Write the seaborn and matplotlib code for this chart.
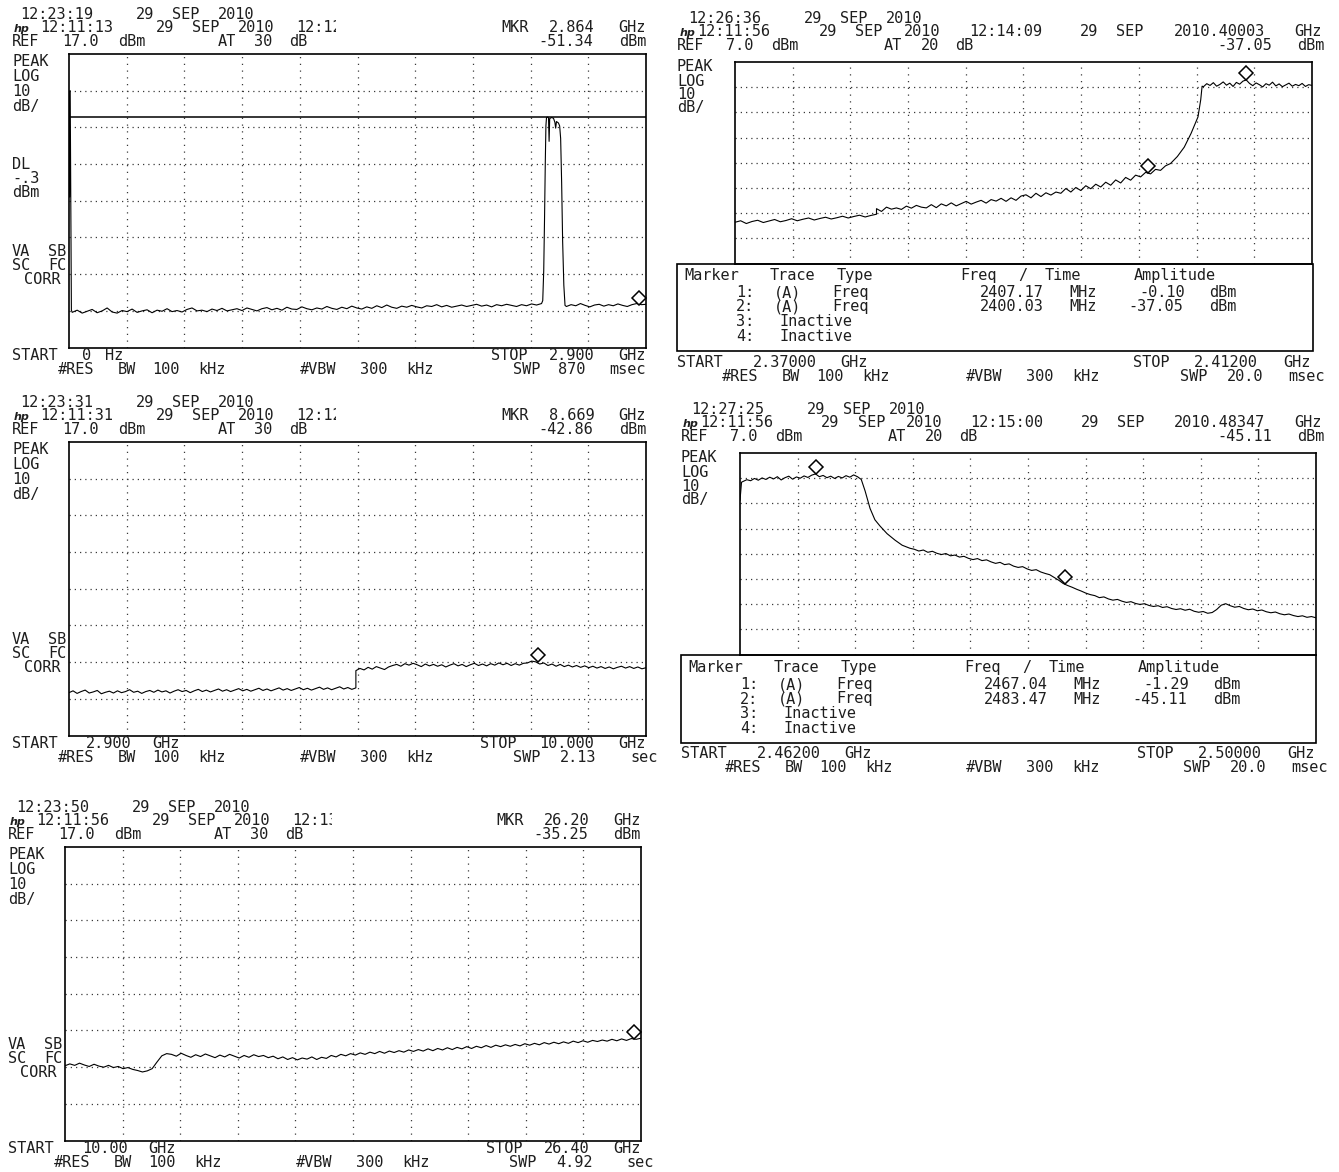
import re
import numpy as np
import matplotlib
matplotlib.use("Agg")
import matplotlib.pyplot as plt
from matplotlib.patches import Rectangle
from matplotlib.transforms import Bbox, TransformedBbox, offset_copy
import seaborn as sns

# ---------------------------------------------------------------- data
# Sweep 1: 0 Hz .. 2.9 GHz, REF 17 dBm
s1_lo_f = [0.0, 0.003, 0.006, 0.009, 0.012]
s1_lo_a = [7.0, -22.0, 7.0, -22.0, -52.8]
s1_noise_a = [
    -53.4, -52.8, -53.6, -53.1, -52.6, -53.5, -53.0, -52.2, -53.3, -53.6,
    -52.9, -53.2, -52.5, -53.4, -53.0, -52.7, -53.5, -52.8, -53.1, -52.4,
    -53.2, -52.9, -53.3, -52.6, -52.2, -53.0, -52.8, -53.2, -52.5, -52.9,
    -52.3, -53.0, -52.7, -52.4, -52.9, -52.2, -52.6, -53.0, -52.4, -52.1,
    -52.7, -52.3, -52.8, -52.0, -52.5, -52.6, -51.9, -52.4, -52.7, -52.2,
    -52.5, -51.8, -52.3, -52.6, -52.0, -52.4, -51.7, -52.2, -52.5, -51.9,
    -52.3, -51.6, -52.1, -51.4, -52.0, -52.3, -51.7, -52.0, -51.5, -51.9,
    -52.2, -51.6, -51.8, -51.3, -51.9, -51.5, -52.0, -51.7, -51.4, -51.8,
    -51.5, -51.2, -51.7, -51.4, -51.9, -51.3, -51.6, -51.2, -51.5, -51.8,
    -51.3, -51.6, -51.1, -51.4, -51.0]
s1_band_f = [2.381, 2.386, 2.390, 2.394, 2.397, 2.400, 2.406, 2.410, 2.413,
             2.416, 2.425, 2.435, 2.442, 2.446, 2.450, 2.460, 2.466, 2.471,
             2.476, 2.481, 2.487, 2.493]
s1_band_a = [-50.2, -42.0, -28.0, -12.0, -2.5, -0.3, -0.2, -0.4, -6.8,
             -0.6, -0.3, -0.5, -1.6, -3.2, -1.4, -1.8, -2.6, -6.0,
             -18.0, -34.0, -46.0, -51.5]
s1_tail_a = [-51.8, -51.3, -51.6, -51.0, -51.5, -51.9, -51.4, -51.2, -51.7,
             -51.3, -51.6, -51.1, -51.5, -51.8, -51.3, -51.0, -51.3, -51.2]
s1_mkr = (2.864, -51.34)
s1_dl = -0.3

# Sweep 3: 2.9 .. 10 GHz, REF 17 dBm
s3_step = 6.43
s3_low_a = [
    -51.3, -50.8, -51.5, -51.0, -50.6, -51.4, -51.1, -50.7, -51.6, -51.2,
    -50.9, -51.4, -50.8, -51.3, -51.0, -50.5, -51.2, -50.9, -51.5, -51.0,
    -50.7, -51.2, -50.6, -51.1, -50.8, -51.4, -50.9, -50.5, -51.0, -50.7,
    -51.3, -50.8, -50.4, -51.0, -50.6, -51.1, -50.7, -50.3, -50.9, -50.5,
    -51.0, -50.6, -50.2, -50.8, -50.4, -50.9, -50.5, -50.1, -50.7, -50.3,
    -50.8, -50.4, -50.0, -50.6, -50.2, -50.7, -50.3, -49.9, -50.5, -50.1,
    -50.6, -50.2, -49.8, -50.4, -50.0, -50.5, -50.1, -49.7, -50.3, -49.9,
    -50.4, -50.0]
s3_high_a = [
    -45.3, -44.7, -45.1, -44.4, -44.9, -44.2, -44.6, -45.0, -44.3, -43.9,
    -43.6, -44.1, -43.4, -43.8, -43.3, -43.7, -44.2, -43.5, -44.0, -43.6,
    -44.1, -43.7, -44.3, -43.8, -43.4, -44.0, -43.6, -44.2, -43.7, -43.3,
    -43.9, -43.5, -44.0, -43.4, -43.8, -43.2, -43.7, -43.3, -43.9, -43.4,
    -43.8, -43.3, -43.2, -42.7, -42.9, -43.5, -43.2, -43.9, -43.5, -44.1,
    -43.6, -44.2, -43.8, -44.3, -43.9, -44.4, -44.0, -44.5, -44.1, -44.6,
    -44.2, -44.7, -44.3, -44.8, -44.4, -44.1, -44.6, -44.2, -44.7, -44.3,
    -44.8, -44.5]
s3_mkr = (8.669, -42.86)

# Sweep 5: 10 .. 26.4 GHz, REF 17 dBm
s5_a = [
    -42.6, -42.1, -42.5, -41.9, -42.4, -42.8, -42.2, -42.7, -43.0, -42.5,
    -43.1, -42.8, -43.4, -43.1, -43.6, -43.9, -44.3, -44.0, -43.4, -41.6,
    -39.9, -39.3, -39.5, -40.0, -39.2, -39.8, -40.3, -39.6, -40.1, -39.4,
    -39.9, -40.4, -39.7, -40.2, -39.5, -40.0, -40.5, -39.8, -40.3, -39.6,
    -40.1, -39.8, -40.4, -40.0, -40.7, -40.2, -40.9, -40.4, -41.0, -40.5,
    -40.8, -40.2, -40.9, -40.3, -40.6, -39.8, -40.2, -39.5, -39.9, -39.3,
    -39.7, -39.1, -39.5, -38.9, -39.3, -38.7, -39.2, -38.6, -39.0, -38.5,
    -38.9, -38.3, -38.7, -38.2, -38.6, -38.0, -38.5, -37.9, -38.3, -37.7,
    -38.2, -37.6, -38.0, -37.4, -37.9, -37.3, -37.7, -37.1, -37.6, -37.0,
    -37.4, -36.9, -37.3, -36.8, -37.2, -36.6, -37.0, -36.5, -36.9, -36.3,
    -36.7, -36.2, -36.6, -36.1, -36.5, -35.9, -36.3, -35.8, -36.2, -35.7,
    -36.0, -35.6, -35.9, -35.4, -35.8, -35.3, -35.7, -35.2, -35.4, -35.1]
s5_mkr = (26.20, -35.25)

# Sweep 2: 2.370 .. 2.412 GHz, REF 7 dBm
s2_edge = 2.3803
s2_low_a = [-56.6, -56.0, -57.1, -56.3, -55.8, -56.7, -56.1, -55.5, -56.4,
            -55.9, -55.2, -56.0, -55.4, -54.9, -55.7, -55.1, -54.6, -55.3,
            -54.8, -54.2, -54.9, -54.3, -53.8, -54.5, -53.9, -53.4]
s2_slope_a = [
    -51.2, -52.3, -50.6, -51.4, -50.9, -51.5, -50.2, -51.0, -49.9, -50.6,
    -50.9, -49.6, -50.8, -49.3, -50.1, -48.9, -50.1, -49.2, -48.3, -49.4,
    -48.6, -47.9, -49.0, -47.6, -48.2, -47.1, -48.3, -46.9, -47.9, -46.2,
    -45.7, -46.9, -45.1, -46.4, -44.9, -45.8, -44.6, -45.1, -43.2, -44.6,
    -42.8, -44.0, -42.1, -43.3, -41.5, -42.6, -40.7, -41.9, -39.8, -41.0,
    -38.8, -39.9, -37.9, -38.6, -36.8, -37.4, -35.6, -36.0, -34.2, -33.3]
s2_rise_f = [2.4022, 2.4027, 2.4032, 2.4037, 2.4039, 2.4040]
s2_rise_a = [-30.5, -26.8, -21.3, -14.8, -8.0, -2.6]
s2_top_a = [-2.8, -1.6, -2.3, -1.2, -2.6, -1.9, -0.9, -2.2, -1.4, -2.7,
            -1.1, -1.8, -0.6, -0.1, -1.5, -2.4, -1.3, -2.0, -2.9, -1.6,
            -2.2, -1.0, -2.5, -1.7, -2.8, -2.1, -1.4, -2.6, -1.9, -2.4,
            -1.5, -2.7, -2.0, -2.3]
s2_mkr_f = [2.40717, 2.40003]
s2_mkr_a = [-0.10, -37.05]

# Sweep 4: 2.462 .. 2.500 GHz, REF 7 dBm
s4_start_f = [2.4620, 2.4621]
s4_start_a = [-11.8, -4.6]
s4_top_a = [-4.3, -3.6, -4.0, -3.1, -3.8, -2.9, -3.5, -2.6, -3.3, -2.4,
            -3.7, -2.8, -2.2, -3.4, -2.5, -3.0, -2.1, -2.7, -1.8, -1.3,
            -2.4, -1.9, -2.8, -2.2, -3.1, -2.3, -2.9, -2.0, -2.6, -1.7,
            -2.4, -3.5]
s4_fall_f = [2.47025, 2.47058, 2.4709, 2.47124, 2.4717, 2.47223, 2.4727, 2.47321]
s4_fall_a = [-8.0, -15.0, -19.5, -22.0, -25.0, -27.6, -29.6, -30.8]
s4_tail_a = [
    -31.2, -31.9, -31.5, -32.4, -32.0, -32.8, -33.3, -32.9, -33.8, -33.5,
    -34.3, -34.0, -34.8, -35.3, -34.9, -35.7, -35.4, -36.2, -36.8, -36.4,
    -37.3, -37.0, -37.9, -38.4, -38.1, -39.0, -39.6, -39.3, -40.2, -40.8,
    -41.3, -42.4, -43.5, -44.8, -45.6, -46.3, -47.1, -47.8, -48.6, -49.2,
    -49.6, -50.4, -50.1, -50.9, -51.4, -51.1, -51.8, -52.3, -52.0, -52.7,
    -53.1, -52.8, -53.5, -53.9, -53.6, -54.3, -54.0, -54.7, -55.1, -54.8,
    -55.4, -55.0, -55.8, -56.2, -55.9, -56.6, -56.3, -55.1, -53.4, -52.8,
    -53.6, -54.2, -53.9, -54.7, -55.2, -54.9, -55.6, -55.3, -56.0, -56.4,
    -56.1, -56.8, -57.2, -56.9, -57.5, -57.9, -57.6, -58.2, -57.9, -58.4]
s4_mkr_f = [2.46704, 2.48347]
s4_mkr_a = [-1.29, -45.11]

# ---------------------------------------------------------------- setup
sns.set_style("white")
plt.rcParams["font.family"] = ["DejaVu Sans Mono", "DejaVu Sans"]

W, H = 1339, 1172
fig = plt.figure(figsize=(W / 100, H / 100), dpi=100)
FS = 11
CW = 11.4
INK = "black"
TXT = "#1e1e1e"


def fx(x):
    return x / W


def fy(y):
    return 1 - y / H


def hp(x, y, s, align="left", cw=CW, clip_right=None):
    """Write a display line on the instrument's fixed character grid."""
    n = len(s)
    toks = list(re.finditer(r"\S+", s))
    for k, m in enumerate(toks):
        tok, c0, c1 = m.group(), m.start(), m.end()
        if align == "left":
            base = x
            anchor = (k == 0)
        else:
            base = x - n * cw
            anchor = (k == len(toks) - 1)
        if anchor and align == "left":
            px, ha = base + c0 * cw, "left"
        elif anchor:
            px, ha = base + c1 * cw, "right"
        else:
            px, ha = base + 0.5 * (c0 + c1) * cw, "center"
        t = fig.text(fx(px), fy(y + 5), tok, ha=ha, va="baseline",
                     fontsize=FS, color=TXT)
        if clip_right is not None:
            bb = Bbox.from_extents(0, 0, fx(clip_right), 1)
            t.set_clip_box(TransformedBbox(bb, fig.transFigure))
            t.set_clip_on(True)


def span(x0, x1, y, s):
    hp(x0, y, s, cw=(x1 - x0) / len(s))


def logo(x, y):
    fig.text(fx(x), fy(y + 5), "hp", ha="left", va="baseline", fontsize=8,
             fontstyle="italic", fontweight="bold", family="DejaVu Sans",
             color=TXT)


def panel(x0, y0, x1, y1, f0, f1, ref):
    ax = fig.add_axes([fx(x0), fy(y1), (x1 - x0) / W, (y1 - y0) / H])
    ax.set_xlim(f0, f1)
    ax.set_ylim(ref - 80, ref)
    ax.set_xticks([])
    ax.set_yticks([])
    for g in np.linspace(f0, f1, 11)[1:-1]:
        ax.axvline(g, color="#3a3a3a", lw=0.9, ls=(0, (1, 4.4)), zorder=1)
    for g in np.arange(ref - 70, ref, 10):
        ax.axhline(g, color="#3a3a3a", lw=0.9, ls=(0, (1, 3.2)), zorder=1)
    for sp in ax.spines.values():
        sp.set_visible(True)
        sp.set_color(INK)
        sp.set_linewidth(1.2)
    return ax


def trace(ax, f, a):
    sns.lineplot(x=np.asarray(f, float), y=np.asarray(a, float), ax=ax,
                 estimator=None, sort=False, color=INK, lw=0.8, zorder=3)
    ax.set_xlabel("")
    ax.set_ylabel("")


def marker(ax, f, a):
    tr = offset_copy(ax.transData, fig=fig, x=0, y=7, units="dots")
    ax.plot([f], [a], marker="D", ms=6.8, mfc="white", mec=INK, mew=1.1,
            ls="none", transform=tr, zorder=4, clip_on=False)


def table(x0, y0, x1, y1):
    fig.patches.append(Rectangle((fx(x0), fy(y1)), (x1 - x0) / W, (y1 - y0) / H,
                                 transform=fig.transFigure, fill=False,
                                 ec=INK, lw=1.2))


def left_labels(x, y0, y1, y2, y3):
    hp(x, y0, "PEAK")
    hp(x, y1, "LOG")
    hp(x, y2, "10")
    hp(x, y3, "dB/")


def corr_labels(x, y):
    hp(x, y, "VA SB")
    hp(x, y + 14, "SC FC")
    hp(x + 12, y + 28, "CORR")


# ---------------------------------------------------------------- sweep 1
ax1 = panel(69, 54, 646, 347.6, 0.0, 2.9, 17.0)
f1 = np.concatenate([s1_lo_f, np.linspace(0.016, 2.375, len(s1_noise_a)),
                     s1_band_f, np.linspace(2.50, 2.90, len(s1_tail_a))])
a1 = np.concatenate([s1_lo_a, s1_noise_a, s1_band_a, s1_tail_a])
trace(ax1, f1, a1)
ax1.axhline(s1_dl, color=INK, lw=1.1, zorder=2)
marker(ax1, *s1_mkr)
hp(20, 14, "12:23:19  29 SEP 2010")
logo(14, 27)
hp(40, 27, "12:11:13  29 SEP 2010 12:12", clip_right=336)
hp(646, 27, f"MKR {s1_mkr[0]:.3f} GHz", align="right")
hp(12, 41, "REF 17.0 dBm")
hp(218, 41, "AT 30 dB")
hp(646, 41, f"{s1_mkr[1]:.2f} dBm", align="right")
left_labels(12, 61, 76, 91, 106)
hp(12, 164, "DL")
hp(12, 178, "-.3")
hp(12, 192, "dBm")
corr_labels(12, 251)
hp(12, 355, "START 0 Hz")
hp(646, 355, "STOP 2.900 GHz", align="right")
hp(58, 369, "#RES BW 100 kHz")
hp(300, 369, "#VBW 300 kHz")
hp(646, 369, "SWP 870 msec", align="right")

# ---------------------------------------------------------------- sweep 3
oy = 388
ax3 = panel(69, 54 + oy, 646, 347.6 + oy, 2.9, 10.0, 17.0)
f3 = np.concatenate([np.linspace(2.9, s3_step, len(s3_low_a)),
                     np.linspace(s3_step, 10.0, len(s3_high_a))])
a3 = np.concatenate([s3_low_a, s3_high_a])
trace(ax3, f3, a3)
marker(ax3, *s3_mkr)
hp(20, 14 + oy, "12:23:31  29 SEP 2010")
logo(14, 27 + oy)
hp(40, 27 + oy, "12:11:31  29 SEP 2010 12:12", clip_right=336)
hp(646, 27 + oy, f"MKR {s3_mkr[0]:.3f} GHz", align="right")
hp(12, 41 + oy, "REF 17.0 dBm")
hp(218, 41 + oy, "AT 30 dB")
hp(646, 41 + oy, f"{s3_mkr[1]:.2f} dBm", align="right")
left_labels(12, 61 + oy, 76 + oy, 91 + oy, 106 + oy)
corr_labels(12, 251 + oy)
hp(12, 355 + oy, "START 2.900 GHz")
hp(646, 355 + oy, "STOP 10.000 GHz", align="right")
hp(58, 369 + oy, "#RES BW 100 kHz")
hp(300, 369 + oy, "#VBW 300 kHz")
hp(658, 369 + oy, "SWP 2.13  sec", align="right")

# ---------------------------------------------------------------- sweep 5
ox, oy = -4, 793
ax5 = panel(69 + ox, 54 + oy, 646 + ox - 1, 347.6 + oy, 10.0, 26.4, 17.0)
f5 = np.linspace(10.0, 26.4, len(s5_a))
trace(ax5, f5, s5_a)
marker(ax5, *s5_mkr)
hp(20 + ox, 14 + oy, "12:23:50  29 SEP 2010")
logo(14 + ox, 27 + oy)
hp(40 + ox, 27 + oy, "12:11:56  29 SEP 2010 12:13", clip_right=332)
hp(645 + ox, 27 + oy, f"MKR {s5_mkr[0]:.2f} GHz", align="right")
hp(12 + ox, 41 + oy, "REF 17.0 dBm")
hp(218 + ox, 41 + oy, "AT 30 dB")
hp(645 + ox, 41 + oy, f"{s5_mkr[1]:.2f} dBm", align="right")
left_labels(12 + ox, 61 + oy, 76 + oy, 91 + oy, 106 + oy)
corr_labels(12 + ox, 251 + oy)
hp(12 + ox, 355 + oy, "START 10.00 GHz")
hp(645 + ox, 355 + oy, "STOP 26.40 GHz", align="right")
hp(58 + ox, 369 + oy, "#RES BW 100 kHz")
hp(300 + ox, 369 + oy, "#VBW 300 kHz")
hp(658 + ox, 369 + oy, "SWP 4.92  sec", align="right")

# ---------------------------------------------------------------- sweep 2
ax2 = panel(735, 62, 1312, 263.6, 2.370, 2.412, 7.0)
f2 = np.concatenate([np.linspace(2.370, s2_edge, len(s2_low_a)),
                     np.linspace(s2_edge, 2.4017, len(s2_slope_a)),
                     s2_rise_f,
                     np.linspace(2.4041, 2.412, len(s2_top_a))])
a2 = np.concatenate([s2_low_a, s2_slope_a, s2_rise_a, s2_top_a])
trace(ax2, f2, a2)
for mf, ma in zip(s2_mkr_f, s2_mkr_a):
    marker(ax2, mf, ma)
hp(688, 18, "12:26:36  29 SEP 2010")
logo(680, 31)
span(697, 1326, 31, "12:11:56  29 SEP 2010 12:14:09  29 SEP 2010.40003 GHz")
hp(677, 45, "REF 7.0 dBm")
hp(884, 45, "AT 20 dB")
hp(1325, 45, f"{s2_mkr_a[1]:.2f} dBm", align="right")
left_labels(677, 66, 81, 94, 107)
table(677, 263.6, 1313, 351)
hp(684, 275, "Marker Trace Type")
hp(960, 275, "Freq / Time")
hp(1134, 275, "Amplitude")
for i, (mf, ma) in enumerate(zip(s2_mkr_f, s2_mkr_a)):
    hp(736, 292 + 14.5 * i, f"{i + 1}: (A)  Freq")
    hp(1097, 292 + 14.5 * i, f"{mf * 1000:.2f} MHz", align="right")
    hp(1236, 292 + 14.5 * i, f"{ma:.2f} dBm", align="right")
hp(736, 321, "3: Inactive")
hp(736, 336, "4: Inactive")
hp(677, 362, "START 2.37000 GHz")
hp(1311, 362, "STOP 2.41200 GHz", align="right")
hp(722, 376, "#RES BW 100 kHz")
hp(966, 376, "#VBW 300 kHz")
hp(1325, 376, "SWP 20.0 msec", align="right")

# ---------------------------------------------------------------- sweep 4
ax4 = panel(740, 453, 1316, 654.6, 2.462, 2.500, 7.0)
f4 = np.concatenate([s4_start_f, np.linspace(2.4622, 2.4700, len(s4_top_a)),
                     s4_fall_f, np.linspace(2.4735, 2.5000, len(s4_tail_a))])
a4 = np.concatenate([s4_start_a, s4_top_a, s4_fall_a, s4_tail_a])
trace(ax4, f4, a4)
for mf, ma in zip(s4_mkr_f, s4_mkr_a):
    marker(ax4, mf, ma)
hp(691, 409, "12:27:25  29 SEP 2010")
logo(683, 422)
span(700, 1326, 422, "12:11:56  29 SEP 2010 12:15:00  29 SEP 2010.48347 GHz")
hp(681, 436, "REF 7.0 dBm")
hp(888, 436, "AT 20 dB")
hp(1325, 436, f"{s4_mkr_a[1]:.2f} dBm", align="right")
left_labels(681, 457, 472, 486, 499)
table(681, 654.6, 1316, 743)
hp(688, 667, "Marker Trace Type")
hp(964, 667, "Freq / Time")
hp(1138, 667, "Amplitude")
for i, (mf, ma) in enumerate(zip(s4_mkr_f, s4_mkr_a)):
    hp(740, 684 + 14.5 * i, f"{i + 1}: (A)  Freq")
    hp(1101, 684 + 14.5 * i, f"{mf * 1000:.2f} MHz", align="right")
    hp(1240, 684 + 14.5 * i, f"{ma:.2f} dBm", align="right")
hp(740, 713, "3: Inactive")
hp(740, 728, "4: Inactive")
hp(681, 753, "START 2.46200 GHz")
hp(1315, 753, "STOP 2.50000 GHz", align="right")
hp(725, 767, "#RES BW 100 kHz")
hp(966, 767, "#VBW 300 kHz")
hp(1328, 767, "SWP 20.0 msec", align="right")

fig.savefig("out.png", dpi=100, facecolor="white")
